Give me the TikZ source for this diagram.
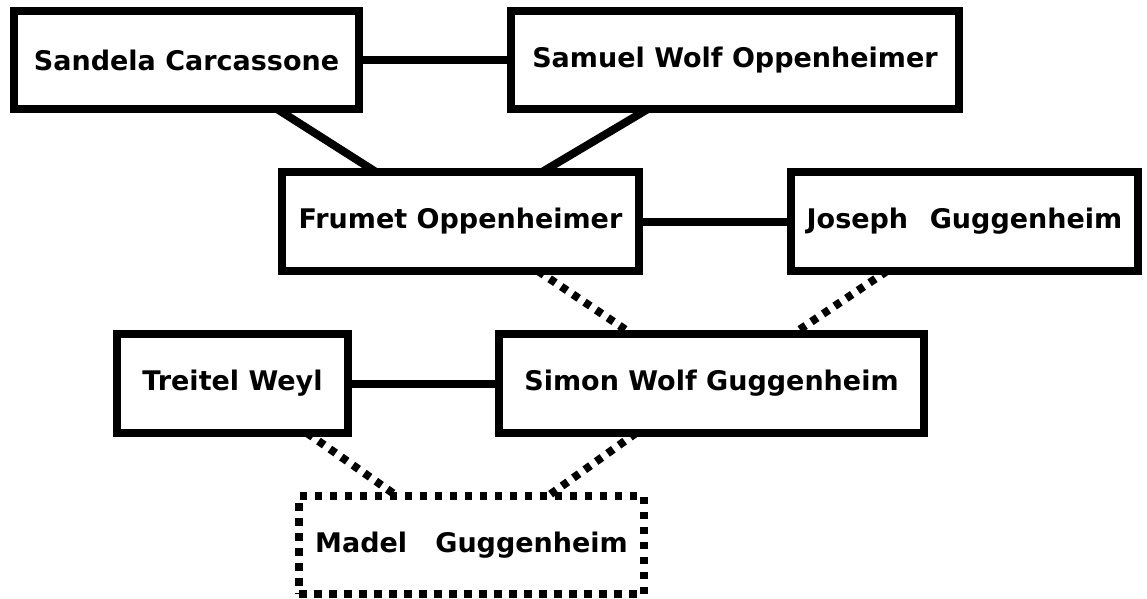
\documentclass[tikz,border=0pt]{standalone}
\usepackage{fontspec}
\setmainfont{DejaVu Sans}
\usetikzlibrary{calc}
\begin{document}
\begin{tikzpicture}[x=1pt,y=-1pt,
  person/.style={draw=black, line width=8pt, rectangle, inner sep=0pt, outer sep=0pt,
    font=\fontsize{27}{31}\selectfont\bfseries, minimum height=98pt},
  dotperson/.style={person, dash pattern=on 7.5pt off 7.5pt},
  link/.style={line width=8pt, black},
  dotlink/.style={line width=8pt, black, dash pattern=on 7pt off 7pt}]
\useasboundingbox (0,0) rectangle (1147,598);
\node[person, minimum width=345pt] (sandela) at (186.5,60) {Sandela Carcassone};
\node[person, minimum width=448pt] (samuel) at (735,60) {Samuel Wolf Oppenheimer};
\node[person, minimum width=357pt, minimum height=99pt] (frumet) at (460.5,221.5) {Frumet Oppenheimer};
\node[person, minimum width=347pt, minimum height=99pt] (joseph) at (964.5,221.5) {Joseph\hspace{0.8em}Guggenheim};
\node[person, minimum width=231pt, minimum height=99pt] (treitel) at (232.5,383.5) {Treitel Weyl};
\node[person, minimum width=425pt, minimum height=99pt] (simon) at (711.5,383.5) {Simon Wolf Guggenheim};
\node[dotperson, minimum width=345pt] (madel) at (471.5,545) {Madel\ \ \ Guggenheim};

\draw[link] (sandela.east) -- (samuel.west);
\draw[link] ($(sandela.south west)+(263,0)$) -- ($(frumet.north west)+(94,0)$);
\draw[link] ($(samuel.south west)+(137,0)$) -- ($(frumet.north west)+(260,0)$);
\draw[link] (frumet.east) -- (joseph.west);
\draw[dotlink] ($(frumet.south west)+(256,0)$) -- ($(simon.north west)+(133,0)$);
\draw[dotlink] ($(joseph.south west)+(96,0)$) -- ($(simon.north west)+(294,0)$);
\draw[link] (treitel.east) -- (simon.west);
\draw[dotlink] ($(treitel.south west)+(190,0)$) -- ($(madel.north west)+(98,0)$);
\draw[dotlink] ($(simon.south west)+(137,0)$) -- ($(madel.north west)+(249,0)$);
\end{tikzpicture}
\end{document}
